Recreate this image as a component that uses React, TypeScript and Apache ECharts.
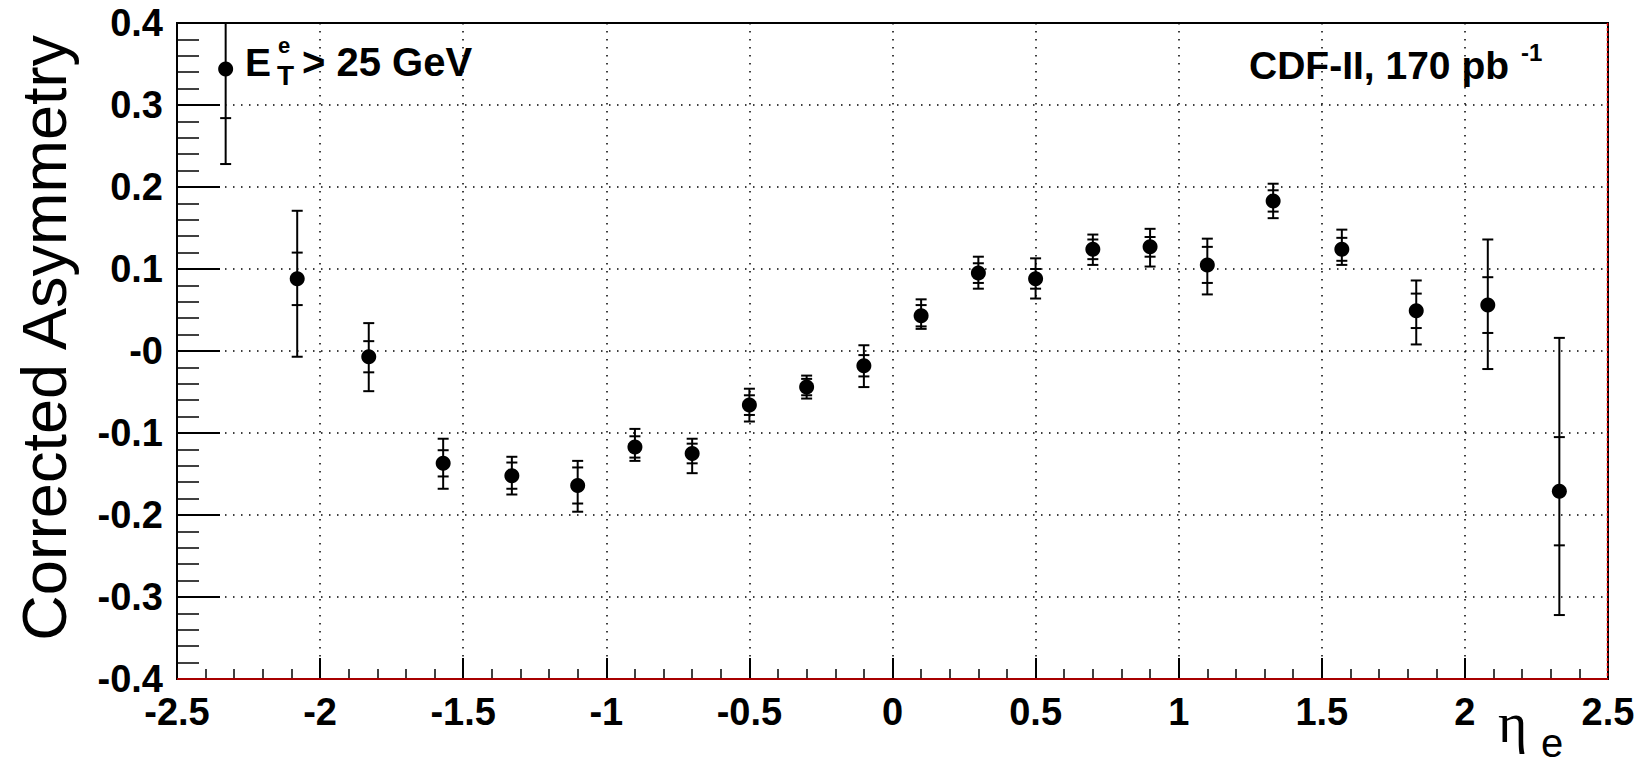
import React, { useEffect, useRef } from "react";
import * as echarts from "echarts";

// ---- data ----
const etaValues = [-2.33, -2.08, -1.83, -1.57, -1.33, -1.1, -0.9, -0.7, -0.5, -0.3, -0.1, 0.1, 0.3, 0.5, 0.7, 0.9, 1.1, 1.33, 1.57, 1.83, 2.08, 2.33];
const asymmetry = [0.344, 0.088, -0.007, -0.137, -0.152, -0.164, -0.117, -0.125, -0.066, -0.044, -0.018, 0.043, 0.095, 0.088, 0.124, 0.127, 0.105, 0.183, 0.124, 0.049, 0.056, -0.171];
const statError = [0.060, 0.032, 0.019, 0.016, 0.016, 0.022, 0.013, 0.012, 0.012, 0.010, 0.013, 0.013, 0.012, 0.012, 0.012, 0.012, 0.022, 0.013, 0.014, 0.021, 0.034, 0.066];
const totalErrorUp = [0.117, 0.083, 0.041, 0.030, 0.023, 0.030, 0.022, 0.018, 0.020, 0.014, 0.025, 0.020, 0.020, 0.025, 0.018, 0.022, 0.032, 0.021, 0.024, 0.037, 0.080, 0.187];
const totalErrorDown = [0.116, 0.095, 0.042, 0.031, 0.023, 0.032, 0.017, 0.024, 0.020, 0.014, 0.026, 0.016, 0.019, 0.024, 0.019, 0.024, 0.036, 0.021, 0.019, 0.041, 0.078, 0.151];

const xTickLabels = ["-2.5", "-2", "-1.5", "-1", "-0.5", "0", "0.5", "1", "1.5", "2", "2.5"];
const yTickLabels = ["-0.4", "-0.3", "-0.2", "-0.1", "-0", "0.1", "0.2", "0.3", "0.4"];

const X_MIN = -2.5, X_MAX = 2.5, X_STEP = 0.5;
const Y_MIN = -0.4, Y_MAX = 0.4, Y_STEP = 0.1;

// layout (pixels)
const W = 1639, H = 765;
const G_LEFT = 177, G_TOP = 23, G_RIGHT = 1608, G_BOTTOM = 679;

const FONT = "'Liberation Sans', Arial, Helvetica, sans-serif";

export default function App() {
  const ref = useRef<HTMLDivElement>(null);

  useEffect(() => {
    document.body.style.margin = "0";
    const chart = echarts.init(ref.current!, null, { renderer: "svg" });

    const rows = etaValues.map((x, i) => [x, asymmetry[i], statError[i], totalErrorUp[i], totalErrorDown[i]]);

    const gridLine = { show: true, lineStyle: { color: "#000", width: 1.5, type: [1.5, 6.5] } };

    const option: any = {
      animation: false,
      backgroundColor: "#fff",
      grid: {
        left: G_LEFT,
        top: G_TOP,
        width: G_RIGHT - G_LEFT,
        height: G_BOTTOM - G_TOP,
        containLabel: false,
        show: true,
        borderColor: "#000",
        borderWidth: 2,
        backgroundColor: "#fff",
      },
      xAxis: {
        type: "value",
        min: X_MIN,
        max: X_MAX,
        interval: X_STEP,
        axisLine: { show: true, onZero: false, lineStyle: { color: "#000", width: 2 } },
        axisTick: { show: true, inside: true, length: 21, lineStyle: { color: "#000", width: 2 } },
        minorTick: { show: true, splitNumber: 5, length: 10, lineStyle: { color: "#000", width: 1.5 } },
        axisLabel: {
          fontFamily: FONT,
          fontWeight: "bold",
          fontSize: 38,
          color: "#000",
          margin: 14,
          formatter: (v: number) => xTickLabels[Math.round((v - X_MIN) / X_STEP)] ?? "",
        },
        splitLine: gridLine,
      },
      yAxis: {
        type: "value",
        min: Y_MIN,
        max: Y_MAX,
        interval: Y_STEP,
        axisLine: { show: true, onZero: false, lineStyle: { color: "#000", width: 2 } },
        axisTick: { show: true, inside: true, length: 43, lineStyle: { color: "#000", width: 2 } },
        minorTick: { show: true, splitNumber: 5, length: 22, lineStyle: { color: "#000", width: 1.5 } },
        axisLabel: {
          fontFamily: FONT,
          fontWeight: "bold",
          fontSize: 38,
          color: "#000",
          margin: 14,
          formatter: (v: number) => yTickLabels[Math.round((v - Y_MIN) / Y_STEP)] ?? "",
        },
        splitLine: gridLine,
      },
      series: [
        {
          type: "custom",
          clip: true,
          data: rows,
          encode: { x: 0, y: 1 },
          renderItem: (params: any, api: any) => {
            const x = api.value(0);
            const y = api.value(1);
            const s = api.value(2);
            const tu = api.value(3);
            const td = api.value(4);
            const c = api.coord([x, y]);
            const tTop = api.coord([x, y + tu]);
            const tBot = api.coord([x, y - td]);
            const sTop = api.coord([x, y + s]);
            const sBot = api.coord([x, y - s]);
            const hw = 5.5;
            const st = { stroke: "#000", lineWidth: 2 };
            const cap = (p: number[]) => ({
              type: "line",
              shape: { x1: p[0] - hw, y1: p[1], x2: p[0] + hw, y2: p[1] },
              style: st,
            });
            return {
              type: "group",
              children: [
                { type: "line", shape: { x1: c[0], y1: tTop[1], x2: c[0], y2: tBot[1] }, style: st },
                cap(tTop),
                cap(tBot),
                cap(sTop),
                cap(sBot),
                { type: "circle", shape: { cx: c[0], cy: c[1], r: 7.5 }, style: { fill: "#000" } },
              ],
            };
          },
          z: 10,
        },
      ],
      graphic: [
        // red frame lines (bottom & right)
        {
          type: "line",
          z: 100,
          shape: { x1: G_LEFT, y1: G_BOTTOM, x2: G_RIGHT, y2: G_BOTTOM },
          style: { stroke: "#e00000", lineWidth: 1.5 },
        },
        {
          type: "line",
          z: 100,
          shape: { x1: G_RIGHT - 0.5, y1: G_TOP, x2: G_RIGHT - 0.5, y2: G_BOTTOM },
          style: { stroke: "#e00000", lineWidth: 1.5, lineDash: [3, 2] },
        },
        // y-axis title
        {
          type: "text",
          x: 44,
          y: 35,
          rotation: Math.PI / 2,
          style: {
            text: "Corrected Asymmetry",
            font: `63px ${FONT}`,
            fill: "#000",
            align: "right",
            verticalAlign: "middle",
          },
        },
        // x-axis title: eta_e
        {
          type: "text",
          x: 1498,
          y: 723,
          style: { text: "η", font: `56px 'Liberation Serif', 'DejaVu Serif', serif`, fill: "#000", align: "left", verticalAlign: "middle" },
        },
        {
          type: "text",
          x: 1541,
          y: 743,
          style: { text: "e", font: `40px ${FONT}`, fill: "#000", align: "left", verticalAlign: "middle" },
        },
        // E_T^e > 25 GeV
        {
          type: "text",
          x: 245,
          y: 62,
          style: { text: "E", font: `bold 39px ${FONT}`, fill: "#000", align: "left", verticalAlign: "middle" },
        },
        {
          type: "text",
          x: 277,
          y: 75,
          style: { text: "T", font: `bold 28px ${FONT}`, fill: "#000", align: "left", verticalAlign: "middle" },
        },
        {
          type: "text",
          x: 278,
          y: 45,
          style: { text: "e", font: `bold 22px ${FONT}`, fill: "#000", align: "left", verticalAlign: "middle" },
        },
        {
          type: "text",
          x: 302,
          y: 62,
          style: { text: "> 25 GeV", font: `bold 40px ${FONT}`, fill: "#000", align: "left", verticalAlign: "middle" },
        },
        // CDF-II, 170 pb^-1
        {
          type: "text",
          x: 1249,
          y: 65,
          style: { text: "CDF-II, 170 pb", font: `bold 39px ${FONT}`, fill: "#000", align: "left", verticalAlign: "middle" },
        },
        {
          type: "text",
          x: 1521,
          y: 52,
          style: { text: "-1", font: `bold 24px ${FONT}`, fill: "#000", align: "left", verticalAlign: "middle" },
        },
      ],
    };

    chart.setOption(option);
    return () => chart.dispose();
  }, []);

  return <div ref={ref} style={{ width: W, height: H }} />;
}
